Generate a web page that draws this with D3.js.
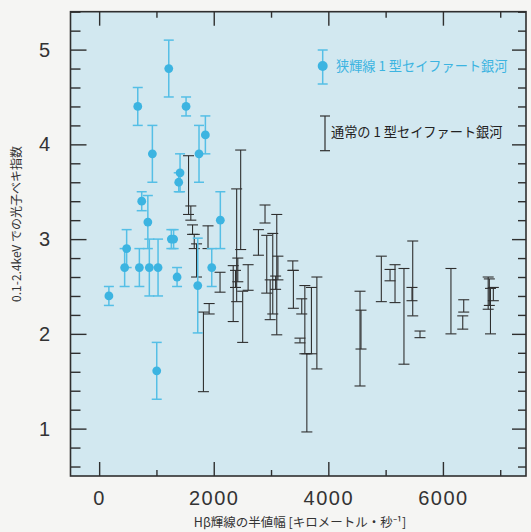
<!DOCTYPE html>
<html><head><meta charset="utf-8">
<script src="https://cdn.jsdelivr.net/npm/d3@7"></script>
<style>
html,body{margin:0;padding:0;background:#f5f5f3;}
svg{display:block;}
</style></head>
<body>
<svg id="chart" width="531" height="532"></svg>
<script>
// ---- data ----
// Narrow-line Seyfert 1 (blue points)
const nlsX   = [170, 480, 445, 674, 702, 743, 850, 876, 929, 1005, 1028, 1215, 1260, 1300, 1360, 1389, 1412, 1517, 1721, 1743, 1854, 1965, 2115];
const nlsY   = [2.40, 2.90, 2.70, 4.40, 2.70, 3.40, 3.18, 2.70, 3.90, 1.61, 2.70, 4.80, 3.00, 3.00, 2.60, 3.60, 3.70, 4.40, 2.51, 3.90, 4.10, 2.70, 3.20];
const nlsErr = [0.10, 0.20, 0.20, 0.20, 0.20, 0.10, 0.28, 0.30, 0.30, 0.30, 0.30, 0.30, 0.10, 0.10, 0.10, 0.10, 0.20, 0.10, 0.50, 0.30, 0.20, 0.20, 0.30];
// Normal Seyfert 1 (black error bars: low / high)
const normX  = [1560, 1600, 1630, 1660, 1700, 1900, 1920, 1820, 2110, 2340, 2380, 2400, 2420, 2470, 2505, 2600, 2780, 2895, 2925, 2985, 3030, 3080, 3100, 3120, 3380, 3390, 3505, 3536, 3590, 3625, 3705, 3800, 4553, 4570, 4925, 5077, 5164, 5320, 5460, 5473, 5600, 6140, 6346, 6363, 6790, 6810, 6830, 6880];
const normLo = [3.26, 3.20, 3.05, 2.90, 2.60, 2.90, 2.21, 1.39, 2.44, 2.13, 2.49, 2.34, 2.55, 2.89, 1.91, 2.46, 2.83, 3.17, 2.43, 2.15, 2.21, 2.47, 1.99, 2.57, 2.67, 2.27, 1.905, 2.21, 1.79, 0.965, 1.79, 1.63, 1.45, 1.84, 2.34, 2.56, 2.33, 1.68, 2.35, 2.19, 1.96, 2.00, 2.05, 2.23, 2.26, 2.30, 2.00, 2.35];
const normHi = [3.88, 3.35, 3.15, 3.05, 2.95, 3.14, 2.32, 2.23, 2.65, 2.72, 2.67, 3.53, 2.80, 3.94, 2.45, 2.73, 3.10, 3.36, 3.04, 2.57, 3.06, 2.61, 3.26, 2.82, 2.77, 2.67, 1.955, 2.37, 2.51, 1.79, 2.49, 2.60, 2.45, 2.25, 2.82, 2.68, 2.73, 2.69, 2.49, 2.98, 2.03, 2.69, 2.19, 2.36, 2.60, 2.58, 2.48, 2.49];
// ticks
const xMajor = [0, 2000, 4000, 6000];
const xMinor = [1000, 3000, 5000, 7000];
const yMajor = [1, 2, 3, 4, 5];
const yMinor = d3.range(0.6, 5.4, 0.2).filter(v => Math.abs(v - Math.round(v)) > 0.05);
const legendLabels = ["狭輝線 1 型セイファート銀河", "通常の 1 型セイファート銀河"];
const xTitle = "Hβ輝線の半値幅 [キロメートル・秒⁻¹]";
const yTitle = "0.1-2.4keV での光子ベキ指数";

// ---- layout ----
const L = 70.5, R = 526, T = 11.7, B = 476;
const x = d3.scaleLinear().domain([-500, 7450]).range([L, R]);
const y = d3.scaleLinear().domain([0.5, 5.4]).range([B, T]);
const blue = "#3cb4e1", blueLine = "#55bfe6", dark = "#2f2f2f";
const svg = d3.select("#chart");

svg.append("rect").attr("x", L).attr("y", T).attr("width", R - L).attr("height", B - T)
  .attr("fill", "#d2e8f0");

const tickFont = "Liberation Sans, Arial, sans-serif";
function styleAxis(g) {
  g.select(".domain").remove();
  g.selectAll("line").attr("stroke", dark).attr("stroke-width", 1.4);
  g.selectAll("text").attr("fill", "#333").attr("font-family", tickFont).attr("font-size", 20).attr("letter-spacing", 1.5);
}
// bottom
svg.append("g").attr("transform", `translate(0,${B})`)
  .call(d3.axisBottom(x).tickValues(xMajor).tickSize(-14).tickPadding(15).tickFormat(d3.format("d"))).call(styleAxis);
svg.append("g").attr("transform", `translate(0,${B})`)
  .call(d3.axisBottom(x).tickValues(xMinor).tickSize(-6).tickFormat("")).call(styleAxis);
// top
svg.append("g").attr("transform", `translate(0,${T})`)
  .call(d3.axisTop(x).tickValues(xMajor).tickSize(-14).tickFormat("")).call(styleAxis);
svg.append("g").attr("transform", `translate(0,${T})`)
  .call(d3.axisTop(x).tickValues(xMinor).tickSize(-6).tickFormat("")).call(styleAxis);
// left
svg.append("g").attr("transform", `translate(${L},0)`)
  .call(d3.axisLeft(y).tickValues(yMajor).tickSize(-16).tickPadding(19).tickFormat(d3.format("d"))).call(styleAxis);
svg.append("g").attr("transform", `translate(${L},0)`)
  .call(d3.axisLeft(y).tickValues(yMinor).tickSize(-10).tickFormat("")).call(styleAxis);
// right
svg.append("g").attr("transform", `translate(${R},0)`)
  .call(d3.axisRight(y).tickValues(yMajor).tickSize(-14).tickFormat("")).call(styleAxis);
svg.append("g").attr("transform", `translate(${R},0)`)
  .call(d3.axisRight(y).tickValues(yMinor).tickSize(-8).tickFormat("")).call(styleAxis);

svg.append("rect").attr("x", L).attr("y", T).attr("width", R - L).attr("height", B - T)
  .attr("fill", "none").attr("stroke", dark).attr("stroke-width", 1.6);

// ---- normal Seyfert 1 error bars ----
const normal = normX.map((v, i) => ({x: v, lo: normLo[i], hi: normHi[i]}));
const ng = svg.append("g").attr("stroke", dark).attr("stroke-width", 1.1);
const cw = 5.5;
normal.forEach(d => {
  const px = x(d.x);
  ng.append("line").attr("x1", px).attr("x2", px).attr("y1", y(d.hi)).attr("y2", y(d.lo));
  ng.append("line").attr("x1", px - cw).attr("x2", px + cw).attr("y1", y(d.hi)).attr("y2", y(d.hi));
  ng.append("line").attr("x1", px - cw).attr("x2", px + cw).attr("y1", y(d.lo)).attr("y2", y(d.lo));
});

// ---- NLS1 points ----
const nls = nlsX.map((v, i) => ({x: v, y: nlsY[i], e: nlsErr[i]}));
const bg = svg.append("g").attr("stroke", blueLine).attr("stroke-width", 1.5);
const bw = 5;
nls.forEach(d => {
  const px = x(d.x);
  bg.append("line").attr("x1", px).attr("x2", px).attr("y1", y(d.y + d.e)).attr("y2", y(d.y - d.e));
  bg.append("line").attr("x1", px - bw).attr("x2", px + bw).attr("y1", y(d.y + d.e)).attr("y2", y(d.y + d.e));
  bg.append("line").attr("x1", px - bw).attr("x2", px + bw).attr("y1", y(d.y - d.e)).attr("y2", y(d.y - d.e));
});
svg.append("g").selectAll("circle").data(nls).join("circle")
  .attr("cx", d => x(d.x)).attr("cy", d => y(d.y)).attr("r", 4.4).attr("fill", blue);

// ---- legend ----
const cjk = "'Noto Sans CJK JP', sans-serif";
const lg = svg.append("g");
lg.append("line").attr("x1", 322.7).attr("x2", 322.7).attr("y1", 50).attr("y2", 84).attr("stroke", blueLine).attr("stroke-width", 1.5);
lg.append("line").attr("x1", 317.7).attr("x2", 327.7).attr("y1", 50).attr("y2", 50).attr("stroke", blueLine).attr("stroke-width", 1.5);
lg.append("line").attr("x1", 317.7).attr("x2", 327.7).attr("y1", 84).attr("y2", 84).attr("stroke", blueLine).attr("stroke-width", 1.5);
lg.append("circle").attr("cx", 322.7).attr("cy", 66).attr("r", 5).attr("fill", blue);
lg.append("text").attr("x", 336).attr("y", 71).attr("font-family", cjk).attr("font-size", 13.2)
  .attr("fill", blue).text(legendLabels[0]);
lg.append("line").attr("x1", 325).attr("x2", 325).attr("y1", 116).attr("y2", 150.7).attr("stroke", dark).attr("stroke-width", 1.2);
lg.append("line").attr("x1", 320).attr("x2", 330).attr("y1", 116).attr("y2", 116).attr("stroke", dark).attr("stroke-width", 1.2);
lg.append("line").attr("x1", 320).attr("x2", 330).attr("y1", 150.7).attr("y2", 150.7).attr("stroke", dark).attr("stroke-width", 1.2);
lg.append("text").attr("x", 331).attr("y", 137).attr("font-family", cjk).attr("font-size", 13.2)
  .attr("fill", "#222").text(legendLabels[1]);

// ---- axis titles ----
svg.append("text").attr("x", 300).attr("y", 527).attr("text-anchor", "middle")
  .attr("font-family", cjk).attr("font-size", 12.5).attr("fill", "#333").text(xTitle);
svg.append("text").attr("transform", "translate(21,224) rotate(-90)").attr("text-anchor", "middle")
  .attr("font-family", cjk).attr("font-size", 12).attr("fill", "#333").text(yTitle);
</script>
</body></html>
